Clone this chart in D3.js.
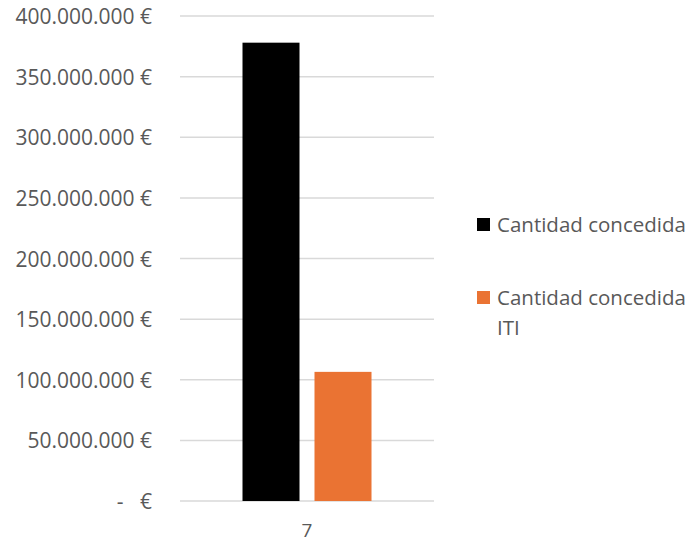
<!DOCTYPE html>
<html>
<head>
<meta charset="utf-8">
<script src="https://cdn.jsdelivr.net/npm/d3@7"></script>
<style>
  body { margin: 0; background: #fff; }
  text { font-family: "Open Sans", sans-serif; fill: #595959; }
  .grid line { stroke: #d9d9d9; stroke-width: 1.5; }
</style>
</head>
<body>
<script>
// data
var categories = ["7"];
var seriesNames = ["Cantidad concedida", "Cantidad concedida ITI"];
var seriesColors = ["#000000", "#ea7333"];
var values = [378000000, 106500000];
var yTicks = [0, 50000000, 100000000, 150000000, 200000000, 250000000, 300000000, 350000000, 400000000];
var yTickLabels = ["-   €", "50.000.000 €", "100.000.000 €", "150.000.000 €", "200.000.000 €",
                   "250.000.000 €", "300.000.000 €", "350.000.000 €", "400.000.000 €"];

var width = 689, height = 543;
var svg = d3.select("body").append("svg")
    .attr("width", width)
    .attr("height", height);

var plotLeft = 180, plotRight = 434, plotTop = 16, plotBottom = 501;

var y = d3.scaleLinear().domain([0, 400000000]).range([plotBottom, plotTop]);

var x0 = d3.scaleBand().domain(categories).range([plotLeft, plotRight])
    .paddingInner(0).paddingOuter(0.4845);
var x1 = d3.scaleBand().domain(seriesNames).range([0, x0.bandwidth()])
    .paddingInner(0.2083).paddingOuter(0);

// gridlines
svg.append("g").attr("class", "grid")
  .selectAll("line")
  .data(yTicks)
  .enter().append("line")
  .attr("x1", plotLeft).attr("x2", plotRight)
  .attr("y1", function(d) { return y(d); })
  .attr("y2", function(d) { return y(d); });

// y labels
svg.append("g")
  .selectAll("text")
  .data(yTicks)
  .enter().append("text")
  .attr("x", 152)
  .attr("y", function(d) { return y(d) + 8; })
  .attr("text-anchor", "end")
  .style("font-size", "21px")
  .style("white-space", "pre")
  .text(function(d, i) { return yTickLabels[i]; });

// bars
svg.append("g")
  .selectAll("rect")
  .data(values)
  .enter().append("rect")
  .attr("x", function(d, i) { return x0(categories[0]) + x1(seriesNames[i]); })
  .attr("width", x1.bandwidth())
  .attr("y", function(d) { return y(d); })
  .attr("height", function(d) { return y(0) - y(d); })
  .attr("fill", function(d, i) { return seriesColors[i]; });

// x label
svg.append("text")
  .attr("x", x0(categories[0]) + x0.bandwidth() / 2)
  .attr("y", 537)
  .attr("text-anchor", "middle")
  .style("font-size", "19px")
  .text(categories[0]);

// legend
var legendRows = [
  { y: 218, lines: ["Cantidad concedida"] },
  { y: 291, lines: ["Cantidad concedida", "ITI"] }
];
legendRows.forEach(function(r, i) {
  svg.append("rect")
    .attr("x", 477).attr("y", r.y)
    .attr("width", 13).attr("height", 13)
    .attr("fill", seriesColors[i]);
  var t = svg.append("text")
    .attr("x", 497).attr("y", r.y + 14)
    .style("font-size", "20.5px");
  r.lines.forEach(function(l, j) {
    t.append("tspan").attr("x", 497).attr("dy", j === 0 ? 0 : 30).text(l);
  });
});
</script>
</body>
</html>
